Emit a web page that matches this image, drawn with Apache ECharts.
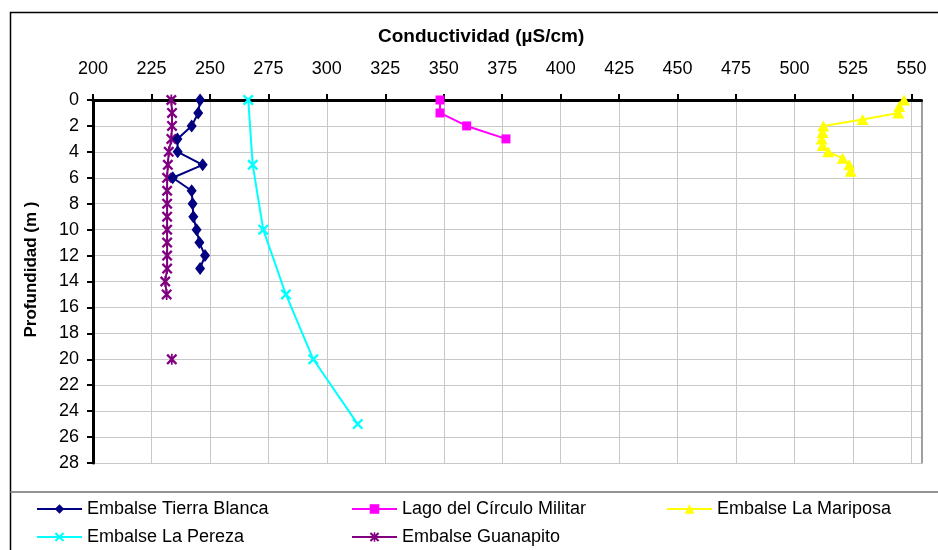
<!DOCTYPE html>
<html>
<head>
<meta charset="utf-8">
<script src="https://cdn.jsdelivr.net/npm/echarts@6/dist/echarts.min.js"></script>
<style>
html,body{margin:0;padding:0;background:#fff;}
#c{width:938px;height:550px;}
</style>
</head>
<body>
<div id="c"></div>
<script>
// ---- Data ----
const xTicks = [200, 225, 250, 275, 300, 325, 350, 375, 400, 425, 450, 475, 500, 525, 550];
const yTicks = [0, 2, 4, 6, 8, 10, 12, 14, 16, 18, 20, 22, 24, 26, 28];

const seriesNames = ['Embalse Tierra Blanca', 'Lago del Círculo Militar', 'Embalse La Mariposa', 'Embalse La Pereza', 'Embalse Guanapito'];

const tierraBlancaDepth = [0, 1, 2, 3, 4, 5, 6, 7, 8, 9, 10, 11, 12, 13];
const tierraBlancaCond  = [245.8, 245.0, 242.2, 236.1, 236.2, 246.9, 234.1, 242.2, 242.6, 242.9, 244.3, 245.5, 247.9, 245.8];

const circuloDepth = [0, 1, 2, 3];
const circuloCond  = [348.4, 348.4, 359.8, 376.6];

const mariposaDepth = [0, 0.5, 1, 1.5, 2, 2.5, 3, 3.5, 4, 4.5, 5, 5.5];
const mariposaCond  = [546.8, 544.8, 544.4, 529.1, 512.3, 512.0, 511.6, 512.0, 514.4, 520.6, 523.4, 524.0];

const perezaDepth = [0, 5, 10, 15, 20, 25];
const perezaCond  = [266.4, 268.3, 272.8, 282.5, 294.2, 313.2];

const guanapitoDepth = [0, 1, 2, 3, 4, 5, 6, 7, 8, 9, 10, 11, 12, 13, 14, 15, null, 20];
const guanapitoCond  = [233.5, 233.8, 233.8, 233.5, 232.4, 232.0, 231.7, 231.7, 231.7, 231.7, 231.7, 231.7, 231.7, 231.7, 230.9, 231.5, null, 233.7];

// ---- Helpers ----
function pairs(cond, depth) {
  return cond.map(function (v, i) {
    return (v === null || depth[i] === null) ? ['-', '-'] : [v, depth[i]];
  });
}
const FONT = '"Liberation Sans", Arial, sans-serif';
const X_PATH = 'path://M0,1.5 L1.5,0 L5,3.5 L8.5,0 L10,1.5 L6.5,5 L10,8.5 L8.5,10 L5,6.5 L1.5,10 L0,8.5 L3.5,5 Z';
const STAR_PATH = 'path://M0,1.5 L1.5,0 L5,3.5 L8.5,0 L10,1.5 L6.5,5 L10,8.5 L8.5,10 L5,6.5 L1.5,10 L0,8.5 L3.5,5 Z M4.2,0 L5.8,0 L5.8,10 L4.2,10 Z';

const chart = echarts.init(document.getElementById('c'), null, { renderer: 'canvas' });

function lineSeries(name, data, color, symbol, size, z) {
  return {
    name: name,
    type: 'line',
    data: data,
    symbol: symbol,
    symbolSize: size,
    showAllSymbol: true,
    connectNulls: false,
    lineStyle: { color: color, width: 2 },
    itemStyle: { color: color },
    emphasis: { disabled: true },
    z: z
  };
}

const option = {
  backgroundColor: '#ffffff',
  animation: false,
  title: {
    text: 'Conductividad (µS/cm)',
    left: 378,
    top: 27,
    padding: 0,
    textStyle: { fontFamily: FONT, fontWeight: 'bold', fontSize: 19, color: '#000' }
  },
  grid: { left: 93, top: 100, right: 16.5, bottom: 87, outerBoundsMode: 'none' },
  xAxis: {
    type: 'value',
    position: 'top',
    min: 200,
    max: 554.3,
    interval: 25,
    axisLine: { show: true, onZero: false, lineStyle: { color: '#000', width: 3 } },
    axisTick: { show: true, customValues: xTicks, length: 6, lineStyle: { color: '#000', width: 2 } },
    axisLabel: { customValues: xTicks, margin: 22, fontFamily: FONT, fontSize: 18, color: '#000' },
    splitLine: { show: true, lineStyle: { color: '#c8c8c8', width: 1 } }
  },
  yAxis: [
    {
      type: 'value',
      inverse: true,
      min: 0,
      max: 28,
      interval: 2,
      name: 'Profundidad (m )',
      nameLocation: 'middle',
      nameGap: 53,
      nameMoveOverlap: false,
      nameRotate: 90,
      nameTextStyle: { fontFamily: FONT, fontWeight: 'bold', fontSize: 17, color: '#000', padding: [0, 0, 0, 24] },
      axisLine: { show: true, onZero: false, lineStyle: { color: '#000', width: 3 } },
      axisTick: { show: true, customValues: yTicks, length: 6, lineStyle: { color: '#000', width: 2 } },
      axisLabel: { customValues: yTicks, margin: 14, fontFamily: FONT, fontSize: 18, color: '#000' },
      splitLine: { show: true, lineStyle: { color: '#c8c8c8', width: 1 } }
    },
    {
      type: 'value',
      inverse: true,
      min: 0,
      max: 28,
      position: 'right',
      axisLine: { show: true, onZero: false, lineStyle: { color: '#808080', width: 1.5 } },
      axisTick: { show: false },
      axisLabel: { show: false },
      splitLine: { show: false }
    }
  ],
  legend: {
    left: 36,
    top: 500,
    width: 895,
    padding: 0,
    itemGap: 10,
    itemWidth: 45,
    itemHeight: 12,
    selectedMode: false,
    textStyle: { fontFamily: FONT, fontSize: 18, color: '#000', lineHeight: 17 },
    data: [
      { name: seriesNames[0], textStyle: { width: 254 } },
      { name: seriesNames[1], textStyle: { width: 254 } },
      { name: seriesNames[2], textStyle: { width: 200 } },
      { name: seriesNames[3], textStyle: { width: 254 } },
      { name: seriesNames[4], textStyle: { width: 254 } }
    ]
  },
  graphic: [
    { type: 'rect', silent: true, z: -10, shape: { x: 10.5, y: 12.5, width: 1000, height: 1000 },
      style: { fill: null, stroke: '#000', lineWidth: 1.5 } },
    { type: 'line', silent: true, shape: { x1: 10, y1: 492, x2: 938, y2: 492 },
      style: { stroke: '#707070', lineWidth: 1.5 } }
  ],
  series: [
    lineSeries(seriesNames[0], pairs(tierraBlancaCond, tierraBlancaDepth), '#000080', 'diamond', [10, 13], 6),
    lineSeries(seriesNames[1], pairs(circuloCond, circuloDepth), '#FF00FF', 'rect', 9, 3),
    lineSeries(seriesNames[2], pairs(mariposaCond, mariposaDepth), '#FFFF00', 'triangle', [12, 11], 3),
    lineSeries(seriesNames[3], pairs(perezaCond, perezaDepth), '#00FFFF', X_PATH, 11, 3),
    lineSeries(seriesNames[4], pairs(guanapitoCond, guanapitoDepth), '#800080', STAR_PATH, 11, 4)
  ]
};

chart.setOption(option);
</script>
</body>
</html>
